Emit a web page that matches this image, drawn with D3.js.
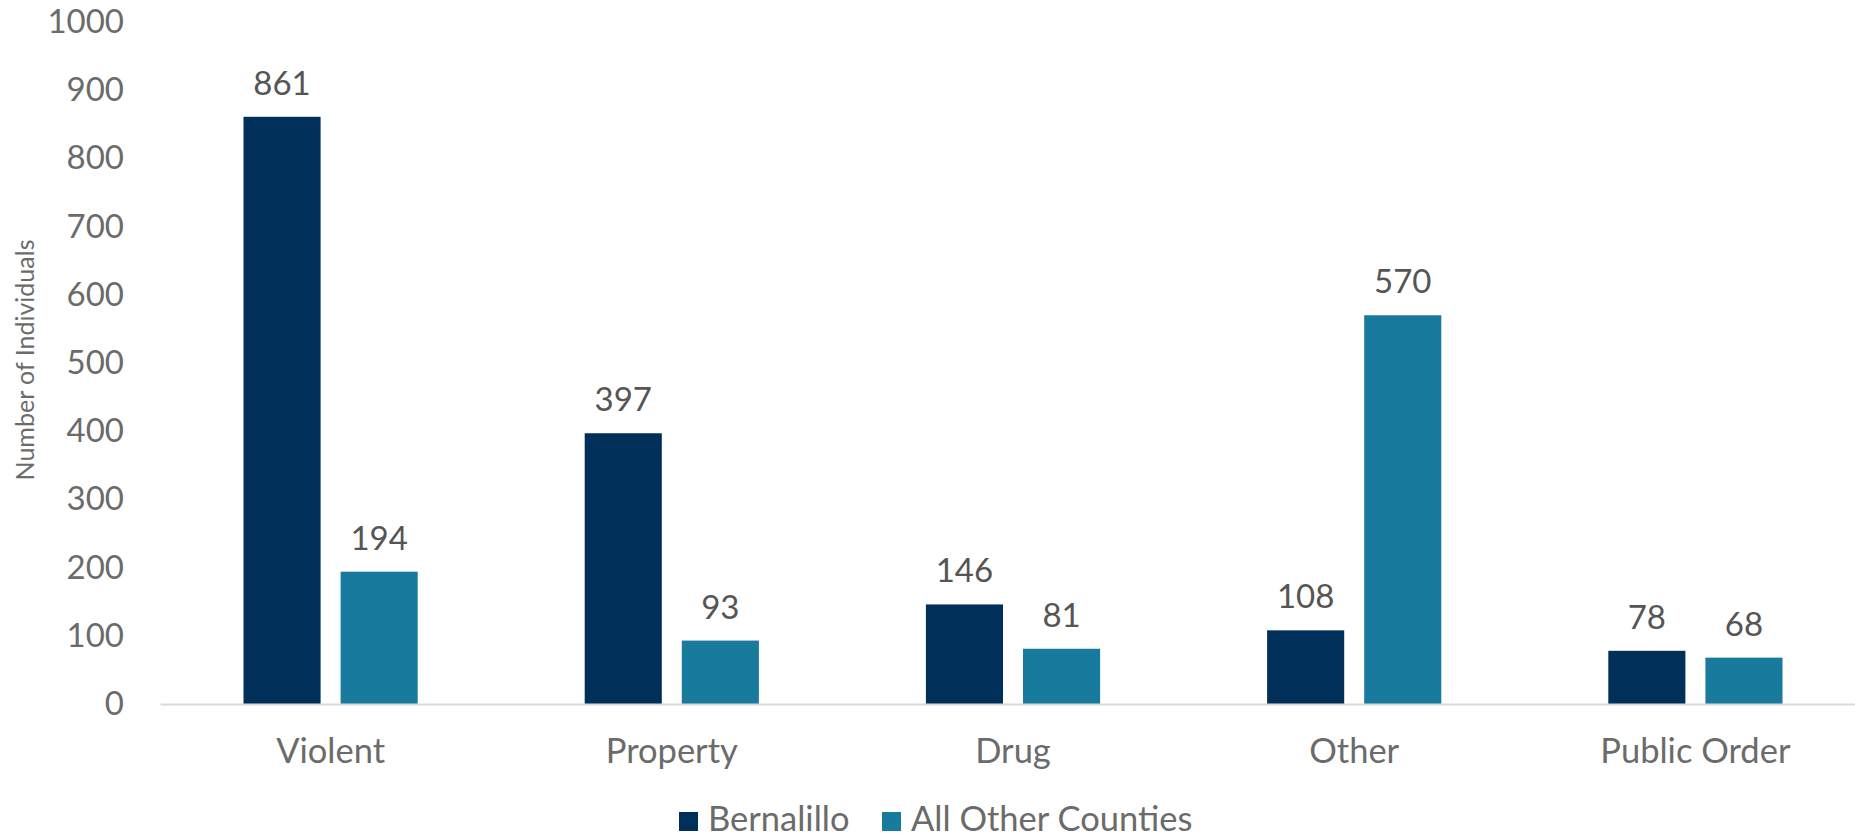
<!DOCTYPE html>
<html>
<head>
<meta charset="utf-8">
<script src="https://cdn.jsdelivr.net/npm/d3@7"></script>
<style>
  html, body { margin: 0; padding: 0; background: #fff; }
  svg { display: block; font-family: Lato, "Open Sans", sans-serif; }
</style>
</head>
<body>
<div id="chart"></div>
<script>
// chart data
const categories = ['Violent', 'Property', 'Drug', 'Other', 'Public Order'];
const seriesNames = ['Bernalillo', 'All Other Counties'];
const bernalillo = [861, 397, 146, 108, 78];
const otherCounties = [194, 93, 81, 570, 68];
const yTicks = [0, 100, 200, 300, 400, 500, 600, 700, 800, 900, 1000];

const colors = { 'Bernalillo': '#00305a', 'All Other Counties': '#187a9c' };

const width = 1855, height = 837;
const plot = { left: 160, right: 1866, top: 22, bottom: 704 };

const rows = categories.map((c, i) => ({
    category: c,
    values: [
        { series: seriesNames[0], value: bernalillo[i] },
        { series: seriesNames[1], value: otherCounties[i] },
    ],
}));

const svg = d3.select('#chart')
    .append('svg')
    .attr('width', width)
    .attr('height', height);

const x0 = d3.scaleBand()
    .domain(categories)
    .range([plot.left, plot.right])
    .padding(0);

const x1 = d3.scaleBand()
    .domain(seriesNames)
    .range([0, x0.bandwidth()])
    .paddingInner(0.206)
    .paddingOuter(0.86);

const y = d3.scaleLinear()
    .domain([0, 1000])
    .range([plot.bottom, plot.top]);

// y axis tick labels (no line, no ticks)
const yAxis = svg.append('g')
    .attr('transform', `translate(${plot.left}, 0)`)
    .call(d3.axisLeft(y).tickValues(yTicks).tickFormat(d3.format('d')).tickSize(0).tickPadding(36));
yAxis.select('.domain').remove();
yAxis.selectAll('text')
    .attr('fill', '#6b6b6b')
    .attr('font-size', '33px')
    .attr('font-family', 'Lato, sans-serif');

// y axis title
svg.append('text')
    .attr('transform', `translate(34, ${360}) rotate(-90)`)
    .attr('text-anchor', 'middle')
    .attr('fill', '#6b6b6b')
    .attr('font-size', '25px')
    .text('Number of Individuals');

// bars
const groups = svg.selectAll('.cat')
    .data(rows)
    .enter()
    .append('g')
    .attr('class', 'cat')
    .attr('transform', d => `translate(${x0(d.category)}, 0)`);

groups.selectAll('rect')
    .data(d => d.values)
    .enter()
    .append('rect')
    .attr('x', d => x1(d.series))
    .attr('y', d => y(d.value))
    .attr('width', x1.bandwidth())
    .attr('height', d => y(0) - y(d.value))
    .attr('fill', d => colors[d.series]);

// data labels
groups.selectAll('.lbl')
    .data(d => d.values)
    .enter()
    .append('text')
    .attr('class', 'lbl')
    .attr('x', d => x1(d.series) + x1.bandwidth() / 2)
    .attr('y', d => y(d.value) - 22)
    .attr('text-anchor', 'middle')
    .attr('fill', '#555555')
    .attr('font-size', '33px')
    .text(d => d.value);

// x axis line and category labels
const xAxis = svg.append('g')
    .attr('transform', `translate(0, ${plot.bottom})`)
    .call(d3.axisBottom(x0).tickSize(0).tickPadding(35));
xAxis.select('.domain')
    .attr('stroke', '#d9d9d9')
    .attr('stroke-width', 2);
xAxis.selectAll('text')
    .attr('fill', '#6b6b6b')
    .attr('font-size', '34.5px')
    .attr('font-family', 'Lato, sans-serif');

// legend
const legendItems = [
    { name: seriesNames[0], x: 679 },
    { name: seriesNames[1], x: 882 },
];
const legend = svg.append('g').attr('transform', 'translate(0, 812)');
legendItems.forEach(item => {
    legend.append('rect')
        .attr('x', item.x)
        .attr('y', 0)
        .attr('width', 19)
        .attr('height', 19)
        .attr('fill', colors[item.name]);
    legend.append('text')
        .attr('x', item.x + 29)
        .attr('y', 19)
        .attr('fill', '#6b6b6b')
        .attr('font-size', '34.5px')
        .text(item.name);
});
</script>
</body>
</html>
